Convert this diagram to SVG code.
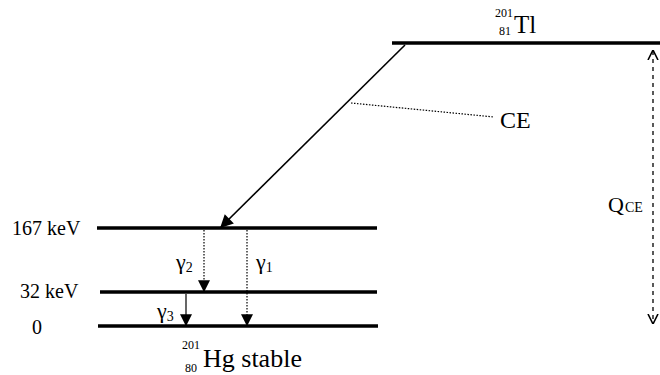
<svg xmlns="http://www.w3.org/2000/svg" width="660" height="375" viewBox="0 0 660 375">
<style>
text{fill:#000;font-family:"Liberation Serif",Tinos,"Noto Serif","DejaVu Serif","Times New Roman",Times,serif}
.lvl{stroke:#000;stroke-width:3.4}
.lbl{font-size:20px}
.g{font-size:22px}
.sub{font-size:12px}
.dot{stroke:#000;stroke-width:1.2;stroke-dasharray:1.5 1.5;fill:none}
</style>
<defs>
<marker id="fa" viewBox="0 0 10 10" refX="9" refY="5" markerWidth="12" markerHeight="12" markerUnits="userSpaceOnUse" orient="auto"><path d="M0,0 L10,5 L0,10 Z" fill="#000"/></marker>
<marker id="fa2" viewBox="0 0 10 10" refX="9" refY="5" markerWidth="16" markerHeight="13" markerUnits="userSpaceOnUse" orient="auto"><path d="M0,0 L10,5 L0,10 Z" fill="#000"/></marker>
<marker id="oa" viewBox="0 0 10 10" refX="9" refY="5" markerWidth="10" markerHeight="12" markerUnits="userSpaceOnUse" orient="auto-start-reverse"><path d="M0,0 L10,5 L0,10" fill="none" stroke="#000" stroke-width="1.6"/></marker>
</defs>
<g id="tl">
<line class="lvl" x1="392" y1="43" x2="660" y2="43"/>
<text x="495" y="17" class="sub">201</text>
<text x="499" y="35" class="sub">81</text>
<text x="514" y="33" font-size="25">Tl</text>
</g>
<g id="lvl167">
<line class="lvl" x1="97" y1="228" x2="377" y2="228"/>
<text x="12" y="235" class="lbl">167 keV</text>
</g>
<g id="lvl32">
<line class="lvl" x1="100" y1="292" x2="377" y2="292"/>
<text x="20" y="298" class="lbl">32 keV</text>
</g>
<g id="lvl0">
<line class="lvl" x1="98" y1="326" x2="378" y2="326"/>
<text x="32" y="334" class="lbl">0</text>
<text x="182" y="349" class="sub">201</text>
<text x="185" y="372" class="sub">80</text>
<text x="203" y="367" font-size="26">Hg stable</text>
</g>
<g id="connectors">
<line x1="405" y1="45" x2="221" y2="227" stroke="#000" stroke-width="1.6" marker-end="url(#fa2)"/>
<line class="dot" x1="351" y1="103" x2="494" y2="117"/>
<line class="dot" x1="204" y1="230" x2="204" y2="291" marker-end="url(#fa)"/>
<line class="dot" x1="247" y1="230" x2="247" y2="325" marker-end="url(#fa)"/>
<line x1="186" y1="294" x2="186" y2="325" stroke="#000" stroke-width="1.2" marker-end="url(#fa)"/>
<line x1="653" y1="51" x2="653" y2="323" stroke="#000" stroke-width="1.3" stroke-dasharray="4 4" marker-start="url(#oa)" marker-end="url(#oa)"/>
</g>
<g id="labels">
<text x="500" y="128" font-size="24">CE</text>
<text x="608" y="212" font-size="22">Q</text>
<text x="625" y="212" font-size="14">CE</text>
<text x="176" y="269" class="g">γ<tspan font-size="14" dy="3">2</tspan></text>
<text x="256" y="269" class="g">γ<tspan font-size="14" dy="3">1</tspan></text>
<text x="157" y="318" class="g">γ<tspan font-size="14" dy="3">3</tspan></text>
</g>
</svg>
